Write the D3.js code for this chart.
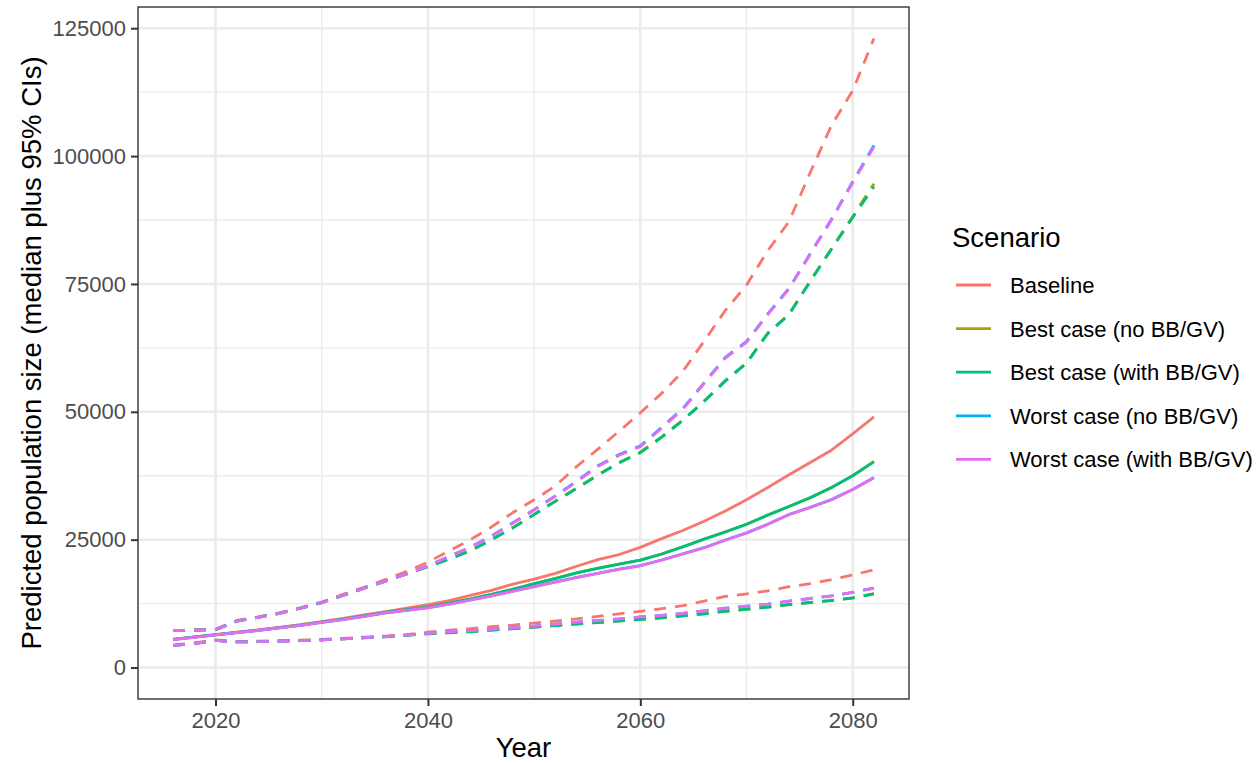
<!DOCTYPE html>
<html>
<head>
<meta charset="utf-8">
<script src="https://cdn.jsdelivr.net/npm/d3@7"></script>
<style>
  body { margin: 0; background: #fff; }
  svg { font-family: "Liberation Sans", Arial, sans-serif; }
</style>
</head>
<body>
<div id="chart"></div>
<script>
// ---- data ----
const years = [2016, 2018, 2020, 2022, 2024, 2026, 2028, 2030, 2032, 2034, 2036, 2038, 2040, 2042, 2044, 2046, 2048,
    2050, 2052, 2054, 2056, 2058, 2060, 2062, 2064, 2066, 2068, 2070, 2072, 2074, 2076, 2078, 2080, 2082];

const scenarios = ["Baseline", "Best case (no BB/GV)", "Best case (with BB/GV)", "Worst case (no BB/GV)", "Worst case (with BB/GV)"];
const colours = ["#F8766D", "#A3A500", "#00BF7D", "#00B0F6", "#E76BF3"];

const baselineMedian = [5500, 5950, 6450, 6900, 7350, 7850, 8400, 9000, 9600, 10300, 10950, 11600, 12300, 13100, 14100, 15100, 16300,
    17300, 18400, 19800, 21100, 22100, 23500, 25200, 26800, 28600, 30600, 32800, 35200, 37700, 40100, 42500, 45700, 49000];
const baselineLower = [4400, 4800, 5400, 5100, 5150, 5250, 5350, 5500, 5700, 5950, 6150, 6450, 6900, 7300, 7600, 8000, 8300,
    8700, 9100, 9500, 10000, 10500, 11000, 11500, 12100, 13000, 13900, 14400, 15000, 15800, 16400, 17200, 18100, 19100];
const baselineUpper = [7200, 7400, 7500, 9200, 9900, 10700, 11700, 12800, 14300, 15700, 17200, 18800, 20600, 22800, 25000, 27500, 30300,
    32800, 35500, 39300, 42700, 46200, 49800, 53600, 57900, 63800, 69800, 74800, 81500, 87200, 96800, 106000, 112800, 123000];

const bestNoMedian = [5520, 5980, 6420, 6860, 7300, 7820, 8320, 8920, 9470, 10120, 10780, 11320, 11820, 12620, 13420, 14320, 15320,
    16380, 17420, 18500, 19420, 20220, 21020, 22180, 23620, 25080, 26520, 28020, 29820, 31480, 33220, 35180, 37520, 40300];
const bestNoLower = [4350, 4720, 5330, 5020, 5070, 5170, 5270, 5420, 5620, 5850, 6050, 6350, 6620, 6820, 7020, 7320, 7620,
    7920, 8220, 8520, 8820, 9120, 9420, 9720, 10120, 10520, 11020, 11420, 11820, 12320, 12720, 13120, 13620, 14450];
const bestNoUpper = [7200, 7300, 7400, 9100, 9800, 10600, 11600, 12700, 14100, 15500, 16900, 18300, 19750, 21250, 22850, 25050, 27350,
    29950, 32550, 35100, 37700, 40100, 42100, 45100, 48400, 52100, 56100, 59600, 65400, 69100, 75600, 81900, 88200, 94600];

const bestWithMedian = [5500, 5960, 6400, 6840, 7280, 7800, 8300, 8900, 9450, 10100, 10760, 11300, 11800, 12600, 13400, 14300, 15300,
    16400, 17400, 18500, 19400, 20200, 21000, 22200, 23600, 25100, 26500, 28000, 29800, 31500, 33200, 35200, 37500, 40200];
const bestWithLower = [4300, 4700, 5300, 5000, 5050, 5150, 5250, 5400, 5600, 5800, 6000, 6300, 6600, 6800, 7000, 7300, 7600,
    7900, 8200, 8500, 8800, 9100, 9400, 9700, 10100, 10500, 11000, 11400, 11800, 12300, 12700, 13100, 13600, 14400];
const bestWithUpper = [7200, 7300, 7400, 9100, 9800, 10600, 11600, 12700, 14100, 15500, 16900, 18300, 19700, 21200, 22800, 25000, 27300,
    29900, 32500, 35000, 37600, 40000, 42000, 45000, 48300, 52000, 56000, 59500, 65300, 69000, 75500, 81800, 88000, 94000];

const worstNoMedian = [5480, 5930, 6380, 6820, 7250, 7760, 8250, 8840, 9380, 10030, 10680, 11200, 11700, 12420, 13220, 14020, 14920,
    15830, 16730, 17630, 18430, 19230, 19930, 21030, 22230, 23430, 24930, 26330, 28030, 29930, 31330, 32830, 34830, 37150];
const worstNoLower = [4300, 4700, 5300, 5000, 5050, 5150, 5250, 5400, 5600, 5850, 6050, 6350, 6700, 7000, 7200, 7500, 7800,
    8100, 8500, 8900, 9200, 9500, 9900, 10200, 10600, 11100, 11600, 12000, 12400, 13000, 13500, 14000, 14700, 15550];
const worstNoUpper = [7200, 7300, 7400, 9100, 9800, 10600, 11600, 12700, 14100, 15500, 16900, 18300, 19900, 21750, 23550, 25750, 28300,
    30850, 33550, 36450, 39450, 41650, 43350, 46950, 50650, 55650, 60650, 63750, 69150, 74150, 80950, 87650, 95000, 102100];

const worstWithMedian = [5470, 5920, 6370, 6810, 7240, 7750, 8240, 8830, 9370, 10020, 10670, 11190, 11680, 12400, 13200, 14000, 14900,
    15800, 16700, 17600, 18400, 19200, 19900, 21000, 22200, 23400, 24900, 26300, 28000, 29900, 31300, 32800, 34800, 37100];
const worstWithLower = [4300, 4700, 5300, 5000, 5050, 5150, 5250, 5400, 5600, 5850, 6050, 6350, 6700, 7000, 7200, 7500, 7800,
    8100, 8500, 8900, 9200, 9500, 9900, 10200, 10600, 11100, 11600, 12000, 12400, 13000, 13500, 14000, 14700, 15500];
const worstWithUpper = [7200, 7300, 7400, 9100, 9800, 10600, 11600, 12700, 14100, 15500, 16900, 18300, 19900, 21700, 23500, 25700, 28200,
    30800, 33500, 36300, 39300, 41500, 43200, 46800, 50500, 55500, 60500, 63600, 69000, 74000, 80800, 87500, 94800, 101800];

const xTicks = [2020, 2040, 2060, 2080];
const xMinor = [2030, 2050, 2070];
const yTicks = [0, 25000, 50000, 75000, 100000, 125000];
const yMinor = [12500, 37500, 62500, 87500, 112500];

const X_LABEL = "Year";
const Y_LABEL = "Predicted population size (median plus 95% CIs)";
const LEGEND_TITLE = "Scenario";

// series per scenario, in legend order
const seriesByScenario = [
    [baselineLower, baselineUpper, baselineMedian],
    [bestNoLower, bestNoUpper, bestNoMedian],
    [bestWithLower, bestWithUpper, bestWithMedian],
    [worstNoLower, worstNoUpper, worstNoMedian],
    [worstWithLower, worstWithUpper, worstWithMedian]
];

// ---- layout ----
const W = 1259, H = 764;
const panel = { left: 138, top: 7, right: 909, bottom: 699 };

const svg = d3.select("#chart").append("svg")
    .attr("width", W)
    .attr("height", H);

const x = d3.scaleLinear().domain([2012.7, 2085.3]).range([panel.left, panel.right]);
const y = d3.scaleLinear().domain([-6150, 129150]).range([panel.bottom, panel.top]);

// grid
const grid = svg.append("g");
grid.selectAll(".minorY").data(yMinor).enter().append("line")
    .attr("x1", panel.left).attr("x2", panel.right)
    .attr("y1", d => y(d)).attr("y2", d => y(d))
    .attr("stroke", "#EBEBEB").attr("stroke-width", 1.3);
grid.selectAll(".minorX").data(xMinor).enter().append("line")
    .attr("y1", panel.top).attr("y2", panel.bottom)
    .attr("x1", d => x(d)).attr("x2", d => x(d))
    .attr("stroke", "#EBEBEB").attr("stroke-width", 1.3);
grid.selectAll(".majorY").data(yTicks).enter().append("line")
    .attr("x1", panel.left).attr("x2", panel.right)
    .attr("y1", d => y(d)).attr("y2", d => y(d))
    .attr("stroke", "#EBEBEB").attr("stroke-width", 2.6);
grid.selectAll(".majorX").data(xTicks).enter().append("line")
    .attr("y1", panel.top).attr("y2", panel.bottom)
    .attr("x1", d => x(d)).attr("x2", d => x(d))
    .attr("stroke", "#EBEBEB").attr("stroke-width", 2.6);

// lines: lower and upper CI dashed, median solid
const line = d3.line()
    .x((d, i) => x(years[i]))
    .y(d => y(d));

const lines = svg.append("g");
seriesByScenario.forEach((group, s) => {
    group.forEach((values, k) => {
        lines.append("path")
            .attr("d", line(values))
            .attr("fill", "none")
            .attr("stroke", colours[s])
            .attr("stroke-width", 2.8)
            .attr("stroke-linejoin", "round")
            .attr("stroke-dasharray", k < 2 ? "12,9" : null);
    });
});

// panel border
svg.append("rect")
    .attr("x", panel.left).attr("y", panel.top)
    .attr("width", panel.right - panel.left)
    .attr("height", panel.bottom - panel.top)
    .attr("fill", "none")
    .attr("stroke", "#333333")
    .attr("stroke-width", 1.4);

// axes
const xAxis = svg.append("g")
    .attr("transform", `translate(0,${panel.bottom})`)
    .call(d3.axisBottom(x).tickValues(xTicks).tickFormat(d3.format("d")).tickSize(7).tickPadding(6).tickSizeOuter(0));
const yAxis = svg.append("g")
    .attr("transform", `translate(${panel.left},0)`)
    .call(d3.axisLeft(y).tickValues(yTicks).tickFormat(d => String(d)).tickSize(7).tickPadding(5).tickSizeOuter(0));

[xAxis, yAxis].forEach(ax => {
    ax.select(".domain").remove();
    ax.selectAll(".tick line").attr("stroke", "#333333").attr("stroke-width", 2);
    ax.selectAll(".tick text")
        .attr("fill", "#4D4D4D")
        .style("font-size", "22px")
        .style("font-family", "'Liberation Sans', Arial, sans-serif");
});

// axis titles
svg.append("text")
    .attr("x", (panel.left + panel.right) / 2)
    .attr("y", 757)
    .attr("text-anchor", "middle")
    .style("font-size", "27.5px")
    .text(X_LABEL);

svg.append("text")
    .attr("transform", `translate(41,${(panel.top + panel.bottom) / 2}) rotate(-90)`)
    .attr("text-anchor", "middle")
    .style("font-size", "27.5px")
    .text(Y_LABEL);

// legend
const legend = svg.append("g");
legend.append("text")
    .attr("x", 952).attr("y", 247)
    .style("font-size", "27.5px")
    .text(LEGEND_TITLE);

const keys = legend.selectAll(".key").data(scenarios).enter().append("g")
    .attr("transform", (d, i) => `translate(0,${285 + i * 43.6})`);
keys.append("line")
    .attr("x1", 956).attr("x2", 991)
    .attr("y1", 0).attr("y2", 0)
    .attr("stroke", (d, i) => colours[i])
    .attr("stroke-width", 2.8);
keys.append("text")
    .attr("x", 1010).attr("y", 0)
    .attr("dy", "0.36em")
    .style("font-size", "22px")
    .text(d => d);
</script>
</body>
</html>
